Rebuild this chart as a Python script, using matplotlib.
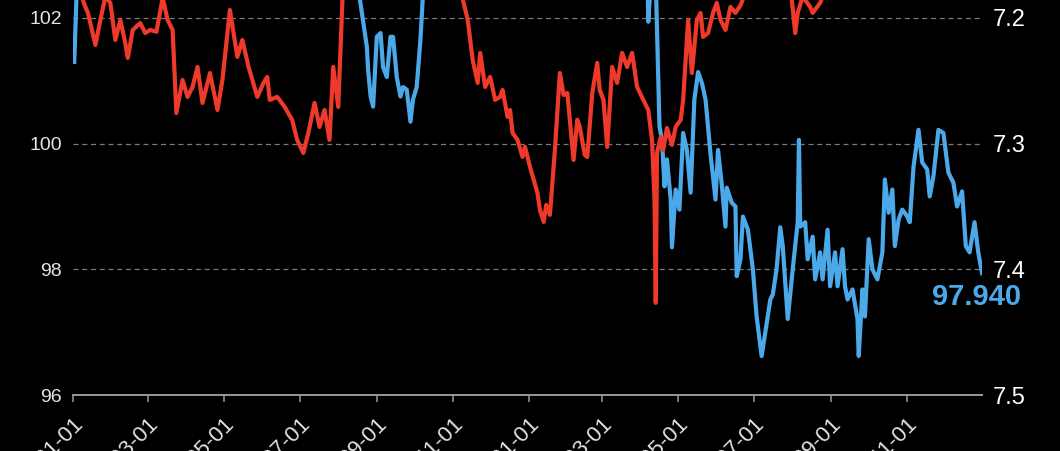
import matplotlib
matplotlib.use('Agg')
from matplotlib import pyplot
import pandas as pd

# days counted from 2024-01-01
start = pd.Timestamp('2024-01-01')

blue_days = [1, 3, 8, 14, 22, 30, 38, 46, 54, 62, 70, 78, 86, 94, 102, 110, 118, 126, 134, 142,
             150, 158, 166, 174, 182, 190, 198, 206, 214, 220, 226, 230, 236, 237, 239, 241, 244, 247,
             249, 252, 255, 257, 260, 263, 265, 268, 271, 273, 276, 279, 281, 286, 293, 300, 308, 316,
             324, 332, 340, 348, 356, 364, 372, 380, 388, 396, 404, 412, 420, 428, 436, 444, 452, 458,
             461, 462, 465, 468, 471, 473, 475, 477, 480, 481, 484, 487, 490, 493, 496, 499, 502, 505,
             508, 512, 516, 518, 521, 524, 525, 529, 532, 533, 536, 538, 542, 546, 549, 553, 556, 560,
             562, 565, 568, 570, 574, 578, 582, 583, 584, 588, 590, 594, 596, 600, 602, 606, 608, 612,
             614, 618, 620, 622, 626, 630, 631, 634, 636, 639, 642, 646, 650, 652, 655, 658, 660, 663,
             666, 670, 672, 675, 679, 682, 686, 688, 691, 695, 699, 703, 707, 710, 714, 717, 720, 724,
             727, 730]
blue_vals = [101.30, 102.45, 102.40, 103.30, 103.60, 103.40, 104.10, 104.40, 104.00, 103.90, 103.40,
             103.80, 104.50, 104.30, 105.20, 106.10, 105.70, 105.30, 105.10, 104.60, 104.70, 105.10,
             105.60, 105.90, 105.40, 104.60, 104.30, 104.40, 103.20, 102.90, 102.60, 102.35, 101.54,
             101.17, 100.75, 100.59, 101.70, 101.76, 101.22, 101.06, 101.70, 101.70, 101.06, 100.75,
             100.90, 100.86, 100.35, 100.70, 100.90, 101.65, 102.35, 102.90, 103.40, 103.90, 104.30,
             104.20, 105.00, 106.10, 106.70, 106.40, 106.10, 107.20, 108.40, 109.10, 109.50, 108.30,
             107.80, 107.40, 106.80, 107.10, 106.50, 104.10, 103.80, 104.20, 103.10, 101.94, 102.90,
             102.60, 100.27, 100.06, 99.32, 99.75, 99.11, 98.35, 99.27, 98.95, 100.17, 99.90, 99.22,
             100.70, 101.14, 100.97, 100.70, 99.83, 99.11, 99.90, 99.35, 98.68, 99.30, 99.06, 99.00,
             97.89, 98.16, 98.84, 98.63, 98.00, 97.25, 96.62, 97.00, 97.52, 97.60, 98.00, 98.67, 98.37,
             97.21, 98.00, 98.75, 100.06, 98.68, 98.75, 98.16, 98.52, 97.84, 98.27, 97.84, 98.63, 97.73,
             98.27, 97.73, 98.32, 97.73, 97.52, 97.68, 97.21, 96.62, 97.68, 97.25, 98.48, 98.00, 97.84,
             98.27, 99.43, 98.90, 99.27, 98.37, 98.79, 98.95, 98.84, 98.75, 99.63, 100.22, 99.70, 99.59,
             99.16, 99.48, 100.22, 100.17, 99.54, 99.38, 99.00, 99.24, 98.37, 98.27, 98.75, 98.27, 97.94]

red_days = [6, 9, 12, 18, 22, 26, 30, 34, 38, 42, 44, 48, 54, 58, 62, 67, 72, 76, 80, 83, 88, 92, 96,
            100, 104, 110, 116, 120, 126, 132, 136, 141, 148, 153, 156, 158, 164, 170, 176, 180, 185,
            189, 194, 198, 202, 206, 209, 213, 217, 222, 230, 240, 250, 260, 270, 278, 286, 294, 302,
            308, 313, 317, 321, 325, 327, 331, 335, 339, 343, 345, 349, 351, 353, 357, 361, 363, 367,
            373, 375, 378, 380, 383, 387, 391, 394, 397, 402, 405, 407, 411, 413, 417, 421, 423, 426,
            429, 433, 437, 441, 445, 449, 453, 458, 462, 465, 467, 468, 469, 472, 474, 477, 481, 484,
            488, 490, 492, 494, 497, 501, 504, 506, 510, 514, 517, 520, 524, 528, 532, 536, 540, 550,
            560, 570, 577, 580, 582, 586, 592, 594, 600, 604, 615, 630, 650, 670, 690, 710, 730]
red_vals = [7.178, 7.189, 7.196, 7.2215, 7.2016, 7.183, 7.188, 7.2175, 7.2016, 7.2199, 7.2318, 7.2095,
            7.204, 7.212, 7.2095, 7.211, 7.184, 7.2016, 7.2095, 7.2756, 7.2493, 7.2628, 7.2549, 7.239,
            7.2676, 7.2438, 7.2732, 7.2493, 7.1936, 7.231, 7.2175, 7.239, 7.2628, 7.2517, 7.2469,
            7.2652, 7.2628, 7.2708, 7.2811, 7.297, 7.3074, 7.2915, 7.2676, 7.2867, 7.2732, 7.297,
            7.239, 7.2708, 7.17, 7.15, 7.13, 7.12, 7.10, 7.08, 7.03, 7.05, 7.08, 7.10, 7.12, 7.15,
            7.185, 7.2016, 7.2334, 7.2517, 7.2278, 7.2549, 7.2469, 7.2652, 7.2628, 7.2573, 7.2788,
            7.2732, 7.2915, 7.297, 7.3106, 7.3026, 7.3185, 7.3392, 7.3527, 7.3623, 7.3488, 7.3567,
            7.305, 7.2438, 7.2613, 7.2597, 7.313, 7.281, 7.2867, 7.309, 7.3106, 7.2597, 7.2358,
            7.2573, 7.2652, 7.3026, 7.239, 7.2517, 7.2278, 7.239, 7.2278, 7.2549, 7.2652, 7.2732,
            7.297, 7.3448, 7.4267, 7.3074, 7.2947, 7.305, 7.2875, 7.301, 7.2867, 7.2811, 7.2652,
            7.2334, 7.2016, 7.2438, 7.2016, 7.196, 7.2151, 7.212, 7.196, 7.188, 7.2016, 7.2095,
            7.1912, 7.196, 7.19, 7.18, 7.175, 7.172, 7.178, 7.183, 7.212, 7.196, 7.183, 7.1912,
            7.196, 7.188, 7.178, 7.14, 7.12, 7.11, 7.10, 7.08, 7.07, 7.04]

left_ticks = [96, 98, 100, 102]
right_ticks = [7.2, 7.3, 7.4, 7.5]
tick_dates = pd.date_range('2024-01-01', '2025-11-01', freq='2MS')

BLUE = '#4ba9e9'
RED = '#ef3a2b'

pyplot.rcParams['font.family'] = ['Liberation Sans', 'DejaVu Sans']

blue_x = start + pd.to_timedelta(blue_days, unit='D')
red_x = start + pd.to_timedelta(red_days, unit='D')

fig = pyplot.figure(figsize=(10.6, 4.51), dpi=100, facecolor='black')
ax = fig.add_axes([73 / 1060, 56 / 451, 909 / 1060, 395 / 451])
ax.set_facecolor('black')
ax2 = ax.twinx()

ax.plot(blue_x, blue_vals, color=BLUE, lw=3.0, solid_joinstyle='round')
ax2.plot(red_x, red_vals, color=RED, lw=3.0, solid_joinstyle='round')

ax.set_xlim(start, start + pd.Timedelta(days=730))
ax.set_ylim(96, 102.286)
ax2.set_ylim(7.5, 7.1857)

ax.set_yticks(left_ticks)
ax.set_yticklabels([str(t) for t in left_ticks])
ax2.set_yticks(right_ticks)
ax2.set_yticklabels(['{:.1f}'.format(t) for t in right_ticks])

ax.set_xticks(tick_dates)
ax.set_xticklabels([d.strftime('%Y-%m-%d') for d in tick_dates], rotation=45,
                   ha='right', va='top', rotation_mode='anchor')

ax.grid(axis='y', ls=(0, (4, 3)), color='#7a7a7a', lw=0.9)
ax.set_axisbelow(True)

for name in ['top', 'left', 'right']:
    ax.spines[name].set_visible(False)
for name in ax2.spines:
    ax2.spines[name].set_visible(False)
ax.spines['bottom'].set_color('#9a9a9a')
ax.spines['bottom'].set_linewidth(1.4)

ax.tick_params(axis='y', length=0, pad=8, labelsize=14, labelcolor='#e4e4e4')
ax2.tick_params(axis='y', length=0, pad=8, labelsize=17, labelcolor='white')
ax.tick_params(axis='x', length=5, width=1.1, color='#9a9a9a', pad=8,
               labelsize=16, labelcolor='#e4e4e4')

ax.annotate('{:.3f}'.format(blue_vals[-1]), xy=(blue_x[-1], blue_vals[-1]),
            xytext=(-4, -17), textcoords='offset points', ha='center', va='center',
            color=BLUE, fontsize=21, fontweight='bold', annotation_clip=False)

fig.savefig('out.png', dpi=100, facecolor='black')
